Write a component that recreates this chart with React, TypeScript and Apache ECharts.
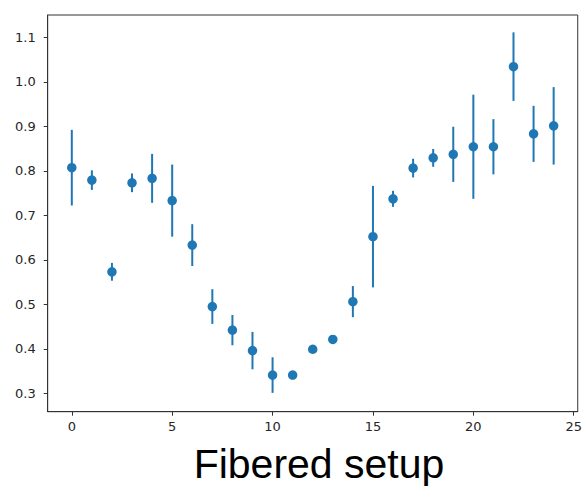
import React, { useEffect, useRef } from "react";
import * as echarts from "echarts";

const xValues = [0, 1, 2, 3, 4, 5, 6, 7, 8, 9, 10, 11, 12, 13, 14, 15, 16, 17, 18, 19, 20, 21, 22, 23, 24];
const yValues = [0.807, 0.779, 0.573, 0.773, 0.783, 0.733, 0.633, 0.495, 0.442, 0.396, 0.341, 0.341, 0.399, 0.421, 0.506, 0.652, 0.737, 0.806, 0.829, 0.837, 0.854, 0.854, 1.034, 0.883, 0.901];
const yErrors = [0.085, 0.022, 0.02, 0.021, 0.055, 0.081, 0.047, 0.039, 0.034, 0.042, 0.04, 0.004, 0.004, 0.004, 0.035, 0.114, 0.018, 0.021, 0.02, 0.062, 0.117, 0.062, 0.077, 0.063, 0.087];
const xTicks = [0, 5, 10, 15, 20, 25];
const yTicks = [0.3, 0.4, 0.5, 0.6, 0.7, 0.8, 0.9, 1.0, 1.1];
const title = "Fibered setup";

const BLUE = "#1f77b4";

export default function App() {
  const ref = useRef<HTMLDivElement>(null);
  useEffect(() => {
    if (!ref.current) return;
    const chart = echarts.init(ref.current, null, { renderer: "svg" });
    const pts = xValues.map((x, i) => [x, yValues[i]]);
    const errs = xValues.map((x, i) => [x, yValues[i] - yErrors[i], yValues[i] + yErrors[i]]);
    const labelStyle = { color: "#262626", fontFamily: "DejaVu Sans", fontSize: 13 };
    chart.setOption({
      animation: false,
      backgroundColor: "#ffffff",
      grid: {
        left: 47.7,
        top: 15,
        right: 5,
        bottom: 77.3,
        show: true,
        borderColor: "#333333",
        borderWidth: 1,
        containLabel: false,
      },
      xAxis: {
        type: "value",
        min: -1.2,
        max: 25.2,
        axisLine: { show: true, onZero: false, lineStyle: { color: "#333333", width: 1 } },
        axisTick: { show: true, customValues: xTicks, length: 4, lineStyle: { color: "#333333" } },
        axisLabel: { show: true, customValues: xTicks, margin: 8, ...labelStyle },
        splitLine: { show: false },
      },
      yAxis: {
        type: "value",
        min: 0.2587,
        max: 1.15,
        axisLine: { show: true, onZero: false, lineStyle: { color: "#333333", width: 1 } },
        axisTick: { show: true, customValues: yTicks, length: 4, lineStyle: { color: "#333333" } },
        axisLabel: {
          show: true,
          customValues: yTicks,
          margin: 12,
          formatter: (v: number) => v.toFixed(1),
          ...labelStyle,
        },
        splitLine: { show: false },
      },
      graphic: [
        {
          type: "text",
          x: 319,
          y: 464,
          style: {
            text: title,
            font: "41px 'Liberation Sans', Arial, sans-serif",
            fill: "#000000",
            textAlign: "center",
            textVerticalAlign: "middle",
          },
        },
      ],
      series: [
        {
          type: "custom",
          data: errs,
          renderItem: (params: any, api: any) => {
            const x = api.value(0);
            const lo = api.coord([x, api.value(1)]);
            const hi = api.coord([x, api.value(2)]);
            return {
              type: "line",
              shape: { x1: lo[0], y1: lo[1], x2: hi[0], y2: hi[1] },
              style: { stroke: BLUE, lineWidth: 2 },
            };
          },
          z: 2,
        },
        {
          type: "scatter",
          data: pts,
          symbol: "circle",
          symbolSize: 9.5,
          itemStyle: { color: BLUE, opacity: 1 },
          z: 3,
        },
      ],
    });
    return () => chart.dispose();
  }, []);
  return <div ref={ref} style={{ position: "fixed", left: 0, top: 0, width: 585, height: 489 }} />;
}
